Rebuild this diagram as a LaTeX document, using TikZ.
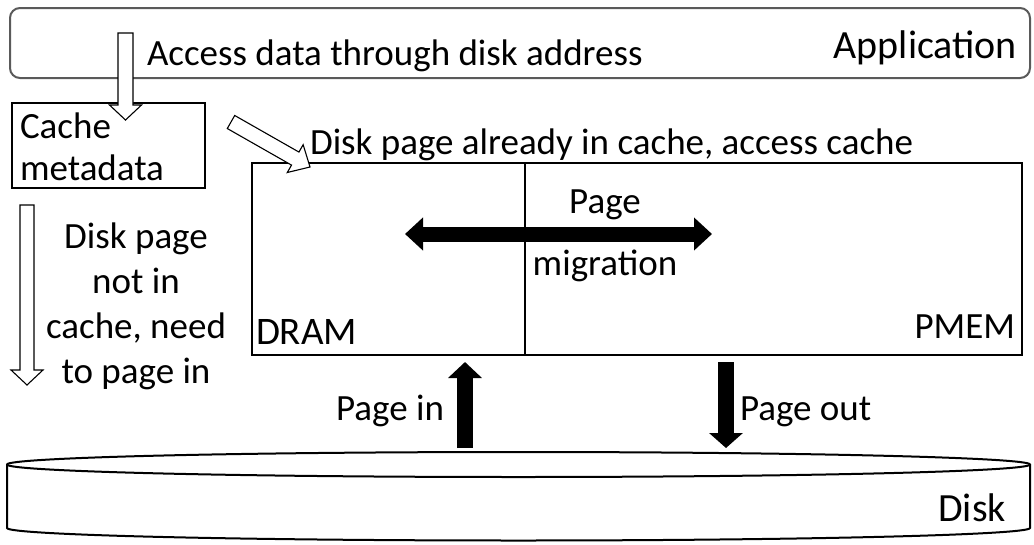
\documentclass[tikz,border=0pt]{standalone}
\usepackage{fontspec}
\setmainfont{Carlito}
\usetikzlibrary{calc,arrows.meta}
\definecolor{appgray}{HTML}{5A5A5A}

% hollow block arrow: #1 style, #2 tail, #3 tip, #4 half shaft, #5 half head, #6 head length
\newcommand\blockarrow[6]{%
  \path ($(#3)!#6!(#2)$) coordinate (#3-base);
  \draw[#1] ($(#2)!#4!90:(#3)$) -- ($(#3-base)!#4!90:(#3)$)
    -- ($(#3-base)!#5!90:(#3)$) -- (#3) -- ($(#3-base)!#5!-90:(#3)$)
    -- ($(#3-base)!#4!-90:(#3)$) -- ($(#2)!#4!-90:(#3)$) -- cycle;}

\begin{document}
\begin{tikzpicture}[x=1pt,y=-1pt,
  txt/.style={font=\fontsize{37}{45}\selectfont, inner sep=0pt, outer sep=0pt},
  bigtxt/.style={font=\fontsize{40}{48}\selectfont, inner sep=0pt, outer sep=0pt},
  boxframe/.style={draw=black, line width=2pt, inner sep=0pt, outer sep=0pt},
  appframe/.style={draw=appgray, line width=2pt, rounded corners=10pt, inner sep=0pt, outer sep=0pt},
  hollow/.style={draw=black, line width=1.1pt, fill=white, line join=miter},
  fatarrow/.style={line width=16pt, -{Triangle[width=33pt,length=16pt]}},
]
\useasboundingbox (0,0) rectangle (1034,544);

% application layer
\node[appframe, anchor=north west, minimum width=1020pt, minimum height=70pt] (app) at (10,8) {};
\node[bigtxt, anchor=base east] (apptxt) at (1017,58) {Application};
\node[txt, anchor=base west] (access) at (147,65) {Access data through disk address};

% cache metadata (multi-line nodes sit on the baseline of their last line)
\node[boxframe, anchor=north west, minimum width=193pt, minimum height=85pt] (meta) at (12,103) {};
\node[txt, anchor=base west, align=left, font=\fontsize{37}{42}\selectfont] (metatxt) at (20,180) {Cache\\metadata};

% memory tiers
\node[boxframe, anchor=north west, minimum width=273pt, minimum height=192pt] (dram) at (252,163) {};
\node[boxframe, anchor=north west, minimum width=497pt, minimum height=192pt] (pmem) at (525,163) {};
\node[txt, anchor=base west, font=\fontsize{39}{47}\selectfont] (dramtxt) at (256,344) {DRAM};
\node[txt, anchor=base east] (pmemtxt) at (1015,338) {PMEM};
\node[txt, anchor=base west] (hittxt) at (310,154) {Disk page already in cache, access cache};

% disk cylinder
\coordinate (disk) at (518.5,500);
\draw[line width=2pt, fill=white] (7,464.5) -- (7,528) arc[start angle=180, end angle=0, x radius=511.5, y radius=12.5]
  -- (1030,464.5) arc[start angle=0, end angle=-180, x radius=511.5, y radius=12.5] -- cycle;
\draw[line width=2pt] (7,464.5) arc[start angle=180, end angle=0, x radius=511.5, y radius=12.5];
\node[bigtxt, anchor=base east] (disktxt) at (1006,521) {Disk};

% migration between DRAM and PMEM
\coordinate (migL) at (405,234);
\coordinate (migR) at (712,234);
\draw[line width=15pt, {Triangle[width=32pt,length=18pt]}-{Triangle[width=32pt,length=18pt]}] (migL) -- (migR);
\node[txt, anchor=base, align=center, font=\fontsize{37}{62}\selectfont] (migtxt) at (605,275) {Page\\migration};

% page in / page out
\coordinate (pinS) at (465,448);
\coordinate (pinE) at (465,362);
\draw[fatarrow] (pinS) -- (pinE);
\node[txt, anchor=base east] (pintxt) at (444,420) {Page in};
\coordinate (poutS) at (726,362);
\coordinate (poutE) at (726,448);
\draw[fatarrow, -{Triangle[width=33pt,length=15pt]}] (poutS) -- (poutE);
\node[txt, anchor=base west] (pouttxt) at (740,420) {Page out};

% hollow request arrows
\coordinate (reqS) at (125.5,33);
\coordinate (reqE) at (125.5,120);
\blockarrow{hollow}{reqS}{reqE}{7.5pt}{16pt}{15pt}
\coordinate (hitS) at (231,122);
\coordinate (hitE) at (310,167);
\blockarrow{hollow}{hitS}{hitE}{7.5pt}{16pt}{17pt}
\coordinate (missS) at (27,205);
\coordinate (missE) at (27,385);
\blockarrow{hollow}{missS}{missE}{7pt}{16pt}{15pt}
\node[txt, anchor=base, align=center] (misstxt) at (136,383) {Disk page\\not in\\cache, need\\to page in};
\end{tikzpicture}
\end{document}
